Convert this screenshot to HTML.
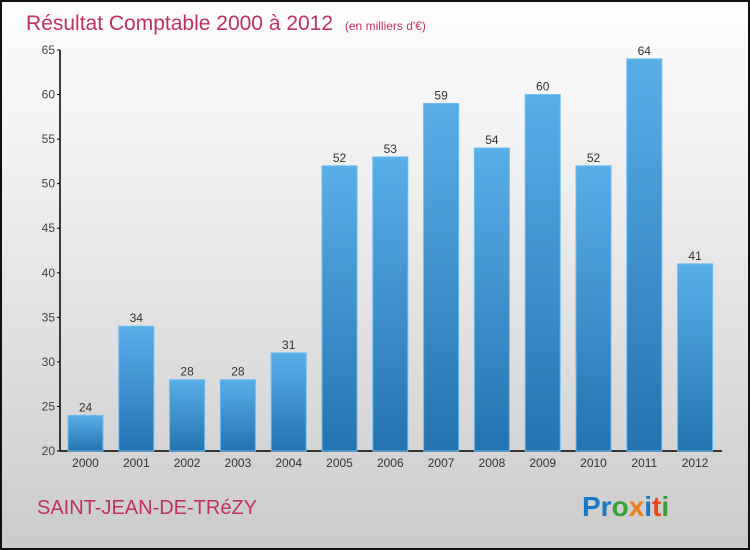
<!DOCTYPE html>
<html><head><meta charset="utf-8"><style>
html,body{margin:0;padding:0}
body{width:750px;height:550px;overflow:hidden;font-family:"Liberation Sans",sans-serif}
#wrap{position:relative;width:746px;height:546px;border:2px solid #111;background:linear-gradient(#fdfdfd,#f0f0f0 30%,#d6d6d6 80%,#cbcbcb)}
</style></head><body>
<div id="wrap">
<svg width="746" height="546" style="position:absolute;left:0;top:0">
<defs><linearGradient id="bg" x1="0" y1="0" x2="0" y2="1"><stop offset="0" stop-color="#5aaee8"/><stop offset="1" stop-color="#2473b0"/></linearGradient></defs>
<text x="24" y="28" font-size="21" fill="#c0315f">Résultat Comptable 2000 à 2012 <tspan font-size="12" dx="6">(en milliers d'€)</tspan></text>
<g id="axes"></g><g id="bars"></g>
<text x="35" y="512" font-size="20" fill="#c0315f">SAINT-JEAN-DE-TRéZY</text>
<text x="580" y="514" font-size="28" font-weight="bold"><tspan fill="#1a78c8">Pr</tspan><tspan fill="#3aa03a">o</tspan><tspan fill="#f07d18">x</tspan><tspan fill="#1a78c8">i</tspan><tspan fill="#e84a1a">t</tspan><tspan fill="#3aa03a">i</tspan></text>
</svg></div>
<script>
const years=["2000","2001","2002","2003","2004","2005","2006","2007","2008","2009","2010","2011","2012"];
const values=[24,34,28,28,31,52,53,59,54,60,52,64,41];
const yTicks=[20,25,30,35,40,45,50,55,60,65];
const NS="http://www.w3.org/2000/svg";
const y=v=>449-(v-20)*(401/45);
const x=i=>66+i*50.8;
function mk(t,a,p){const e=document.createElementNS(NS,t);for(const k in a)e.setAttribute(k,a[k]);p.appendChild(e);return e;}
const ax=document.getElementById('axes'),bs=document.getElementById('bars');
let l=mk('line',{x1:58,y1:y(65),x2:58,y2:y(20),stroke:'#000','stroke-width':1.5},ax);


l=mk('line',{x1:58,y1:y(20),x2:720,y2:y(20),stroke:'#000','stroke-width':1.5},ax);


yTicks.forEach(v=>{
 mk('line',{x1:55,y1:y(v),x2:58,y2:y(v),stroke:'#000'},ax);
 const t=mk('text',{x:53,y:y(v)+4,'font-size':12,fill:'#444','text-anchor':'end'},ax);t.textContent=v;
 
 
});
years.forEach((yr,i)=>{
 const r=mk('rect',{x:x(i),y:y(values[i]),width:35,height:y(20)-y(values[i]),fill:'url(#bg)',stroke:'#6bbcf0','stroke-width':1},bs);
 
 
 const v=mk('text',{x:x(i)+17.5,y:y(values[i])-4,'font-size':12,fill:'#333','text-anchor':'middle'},bs);v.textContent=values[i];
 
 
 const t=mk('text',{x:x(i)+17.5,y:y(20)+16,'font-size':12,fill:'#333','text-anchor':'middle'},ax);t.textContent=yr;
 
 
});
</script>
</body></html>
